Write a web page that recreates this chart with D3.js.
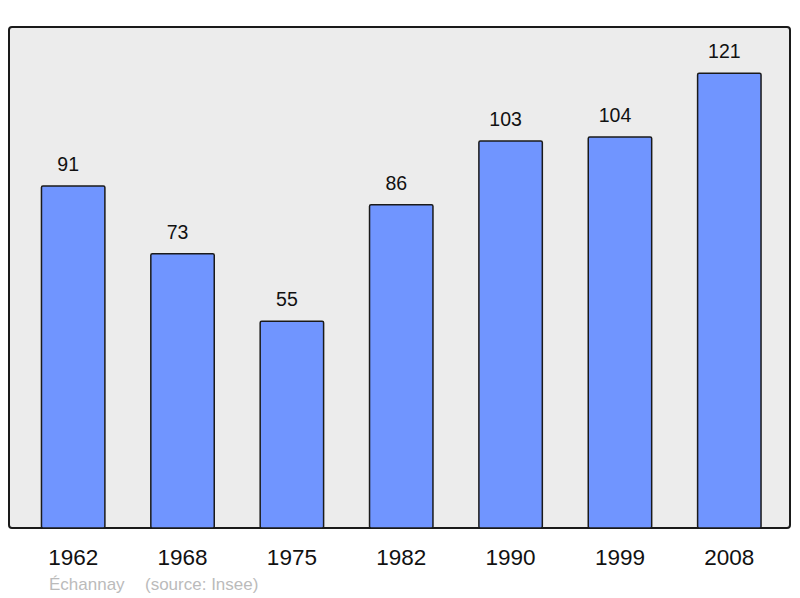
<!DOCTYPE html>
<html>
<head>
<meta charset="utf-8">
<script src="https://cdn.jsdelivr.net/npm/d3@7"></script>
<style>
body { margin: 0; background: #fff; }
text { font-family: "Liberation Sans", Arial, sans-serif; }
</style>
</head>
<body>
<div id="chart"></div>
<script>
var years = ["1962", "1968", "1975", "1982", "1990", "1999", "2008"];
var population = [91, 73, 55, 86, 103, 104, 121];

var W = 800, H = 598;
var frame = {left: 9, top: 27, right: 790, bottom: 528};

var svg = d3.select('#chart')
  .append('svg')
    .attr('width', W)
    .attr('height', H);

svg.append('rect')
  .attr('x', frame.left)
  .attr('y', frame.top)
  .attr('width', frame.right - frame.left)
  .attr('height', frame.bottom - frame.top)
  .attr('rx', 3)
  .attr('fill', '#ececec')
  .attr('stroke', '#1a1a1a')
  .attr('stroke-width', 2);

var x = d3.scaleBand()
  .domain(years)
  .range([18.5, 784])
  .paddingInner(0.42)
  .paddingOuter(0.21);

var y = d3.scaleLinear()
  .domain([0, 133.3])
  .range([frame.bottom, frame.top]);

var data = years.map(function(d, i) { return {year: d, value: population[i]}; });

// bars
svg.selectAll('rect.bar')
  .data(data)
  .enter()
  .append('rect')
    .attr('class', 'bar')
    .attr('x', function(d) { return x(d.year); })
    .attr('y', function(d) { return y(d.value); })
    .attr('width', x.bandwidth())
    .attr('height', function(d) { return frame.bottom - y(d.value); })
    .attr('rx', 1.5)
    .attr('fill', '#7095ff')
    .attr('stroke', '#1a1a1a')
    .attr('stroke-width', 1.5);

// value labels (sit a little left of the bar centre)
svg.selectAll('text.val')
  .data(data)
  .enter()
  .append('text')
    .attr('class', 'val')
    .attr('x', function(d) { return x(d.year) + x.bandwidth() / 2 - 5; })
    .attr('y', function(d) { return y(d.value) - 15; })
    .attr('text-anchor', 'middle')
    .style('font-size', '19.5px')
    .attr('fill', '#111')
    .text(function(d) { return d.value; });

// x axis labels
svg.append('g')
  .attr('transform', 'translate(0,' + frame.bottom + ')')
  .call(d3.axisBottom(x).tickSize(0).tickPadding(21))
  .call(function(g) { g.select('.domain').remove(); })
  .selectAll('text')
    .style('font-size', '22.5px')
    .style('font-family', '"Liberation Sans", Arial, sans-serif')
    .attr('fill', '#111');

svg.append('text')
  .attr('x', 49)
  .attr('y', 590)
  .style('font-size', '17px')
  .attr('fill', '#bbbbbb')
  .text('Échannay');

svg.append('text')
  .attr('x', 145)
  .attr('y', 590)
  .style('font-size', '17px')
  .attr('fill', '#bbbbbb')
  .text('(source: Insee)');
</script>
</body>
</html>
